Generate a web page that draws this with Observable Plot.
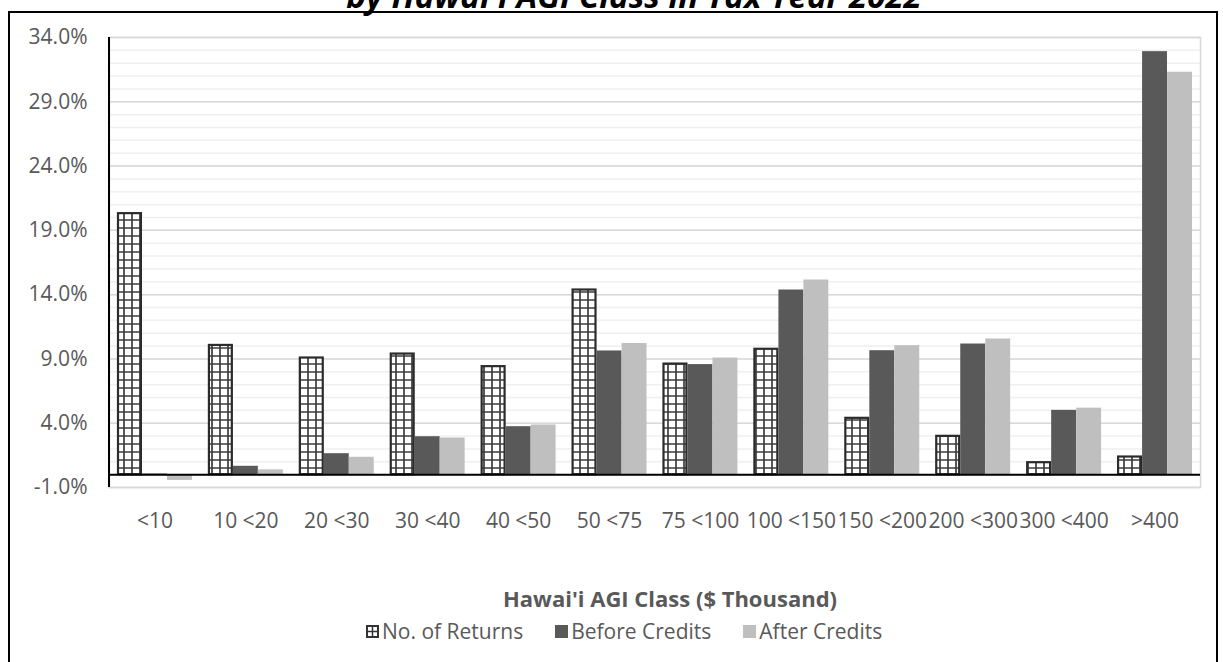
<!DOCTYPE html>
<html>
<head>
<meta charset="utf-8">
<script src="https://cdn.jsdelivr.net/npm/d3@7"></script>
<script src="https://cdn.jsdelivr.net/npm/@observablehq/plot@0.6"></script>
<style>
  html, body { margin: 0; padding: 0; background: #fff; }
  body { width: 1223px; height: 662px; position: relative; overflow: hidden; font-family: "Open Sans", sans-serif; }
  #title { position: absolute; left: 0; width: 1268px; top: -21px; text-align: center; font: italic bold 33px/33px "Open Sans", sans-serif; color: #000; white-space: nowrap; }
  #border { position: absolute; left: 8px; top: 11px; width: 1210px; height: 700px; border: 2px solid #000; box-sizing: border-box; }
  #chart { position: absolute; left: 0; top: 0; }
  #xtitle { position: absolute; left: 0; width: 1340px; top: 585px; text-align: center; font: bold 22px/26px "Open Sans", sans-serif; color: #595959; white-space: nowrap; }
  #legend { position: absolute; left: 366px; top: 619px; display: flex; align-items: center; font: 21px/24px "Open Sans", sans-serif; color: #595959; white-space: nowrap; }
  .item { display: flex; align-items: center; margin-right: 32px; }
  .sw { width: 13px; height: 13px; margin-right: 3px; display: inline-block; }
</style>
</head>
<body>
<div id="title">by Hawai'i AGI Class in Tax Year 2022</div>
<div id="border"></div>
<div id="chart"></div>
<div id="xtitle">Hawai'i AGI Class ($ Thousand)</div>
<div id="legend"></div>
<script>
// ---- data ----
const categories = ["<10", "10 <20", "20 <30", "30 <40", "40 <50", "50 <75", "75 <100", "100 <150", "150 <200", "200 <300", "300 <400", ">400"];
const noOfReturns = [20.3, 10.05, 9.07, 9.38, 8.4, 14.36, 8.6, 9.75, 4.38, 2.98, 0.93, 1.37];
const beforeCredits = [0.05, 0.65, 1.63, 2.95, 3.73, 9.62, 8.56, 14.36, 9.64, 10.16, 5.0, 32.9];
const afterCredits = [-0.45, 0.37, 1.35, 2.85, 3.86, 10.2, 9.07, 15.14, 10.03, 10.55, 5.17, 31.3];
const yTicks = [-1, 4, 9, 14, 19, 24, 29, 34];
const yMinor = d3.range(-1, 35, 1);
const seriesNames = ["No. of Returns", "Before Credits", "After Credits"];

const rows = categories.map((c, i) => ({cat: c, ret: noOfReturns[i], bef: beforeCredits[i], aft: afterCredits[i]}));

const third = 25; // one third of the group width (px)

const plot = Plot.plot({
  width: 1223,
  height: 560,
  marginTop: 37,
  marginBottom: 73,
  marginLeft: 109,
  marginRight: 23,
  x: {domain: categories, paddingInner: 0.176, paddingOuter: 0.088, round: false, label: null},
  y: {domain: [-1, 34], label: null},
  style: {fontFamily: "Open Sans", fontSize: "21px", color: "#595959", background: "transparent", overflow: "visible"},
  marks: [
    Plot.ruleY(yMinor, {stroke: "#efefef", strokeWidth: 1.5}),
    Plot.ruleY(yTicks, {stroke: "#d9d9d9", strokeWidth: 1.5}),
    Plot.frame({stroke: "#d9d9d9", strokeWidth: 1.5}),
    Plot.barY(rows, {x: "cat", y: "ret", fill: "url(#gridpat)", stroke: "#2b2b2b", strokeWidth: 2.2, insetLeft: 1, insetRight: 2 * third + 1}),
    Plot.barY(rows, {x: "cat", y: "bef", fill: "#595959", insetLeft: third, insetRight: third}),
    Plot.barY(rows, {x: "cat", y: "aft", fill: "#bfbfbf", insetLeft: 2 * third, insetRight: 0}),
    Plot.ruleY([0], {stroke: "#000", strokeWidth: 2}),
    Plot.axisY({ticks: yTicks, tickSize: 0, tickPadding: 22, tickFormat: d => d.toFixed(1) + "%", fill: "#595959", fontSize: 21}),
    Plot.axisX({tickSize: 0, tickPadding: 26, fill: "#595959", fontSize: 21})
  ]
});

const svg = d3.select(plot);
const defs = svg.insert("defs", ":first-child");
const pat = defs.append("pattern").attr("id", "gridpat").attr("patternUnits", "userSpaceOnUse").attr("width", 8).attr("height", 8);
pat.append("rect").attr("width", 8).attr("height", 8).attr("fill", "#fff");
pat.append("path").attr("d", "M0 4H8M4 0V8").attr("stroke", "#3c3c3c").attr("stroke-width", 1.7);

// left axis line
const ys = plot.scale("y");
const xs = plot.scale("x");
svg.append("line")
  .attr("x1", xs.range[0]).attr("x2", xs.range[0])
  .attr("y1", ys.apply(34)).attr("y2", ys.apply(-1))
  .attr("stroke", "#000").attr("stroke-width", 2);

document.getElementById("chart").appendChild(plot);

// legend
const legend = d3.select("#legend");
const swatches = [
  s => { s.append("rect").attr("x", 1).attr("y", 1).attr("width", 11).attr("height", 11).attr("fill", "#fff").attr("stroke", "#333").attr("stroke-width", 2);
         s.append("path").attr("d", "M1 6.5H12M6.5 1V12").attr("stroke", "#333").attr("stroke-width", 1.5); },
  s => s.append("rect").attr("width", 13).attr("height", 13).attr("fill", "#595959"),
  s => s.append("rect").attr("width", 13).attr("height", 13).attr("fill", "#bfbfbf")
];
seriesNames.forEach((name, i) => {
  const it = legend.append("div").attr("class", "item");
  const s = it.append("svg").attr("class", "sw").attr("viewBox", "0 0 13 13");
  swatches[i](s);
  it.append("span").text(name);
});
</script>
</body>
</html>
